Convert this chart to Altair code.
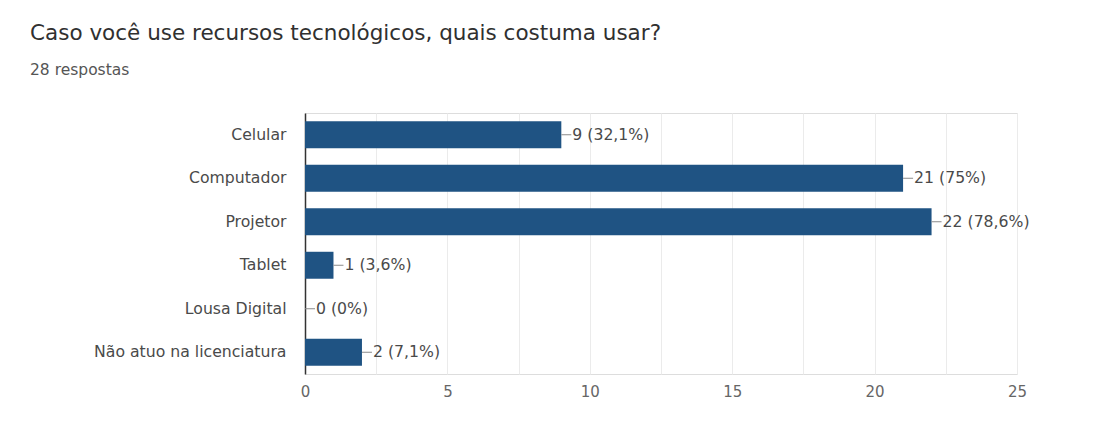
import altair as alt
import pandas as pd

categories = ["Celular", "Computador", "Projetor", "Tablet", "Lousa Digital", "Não atuo na licenciatura"]
counts = [9, 21, 22, 1, 0, 2]
labels = ["9 (32,1%)", "21 (75%)", "22 (78,6%)", "1 (3,6%)", "0 (0%)", "2 (7,1%)"]
x_ticks = [0, 2.5, 5, 7.5, 10, 12.5, 15, 17.5, 20, 22.5, 25]

df = pd.DataFrame({"cat": categories, "n": counts, "lab": labels})

FONT = "DejaVu Sans"
BAR = "#1f5383"

y_enc = alt.Y("cat:N", sort=categories,
              scale=alt.Scale(paddingInner=0.38, paddingOuter=0.19),
              axis=alt.Axis(title=None, ticks=False, labelPadding=19, labelFontSize=15.7,
                            labelColor="#4a4a4a", labelFont=FONT, domainColor="#333333",
                            domainWidth=1.5, grid=False, labelLimit=400))
x_enc = alt.X("n:Q", scale=alt.Scale(domain=[0, 25], nice=False),
              axis=alt.Axis(title=None, values=x_ticks, ticks=False, domain=False,
                            gridColor="#ebebeb", gridWidth=1, labelFontSize=15,
                            labelColor="#666666", labelFont=FONT, labelPadding=10,
                            labelFlush=False,
                            labelExpr="datum.value % 5 == 0 ? datum.label : ''"))

bars = alt.Chart(df).mark_bar(color=BAR).encode(y=y_enc, x=x_enc)
stems = alt.Chart(df).mark_rule(color="#8a8a8a", strokeWidth=1, x2Offset=10).encode(
    y=alt.Y("cat:N", sort=categories), x="n:Q", x2="n:Q")
texts = alt.Chart(df).mark_text(align="left", baseline="middle", dx=11, fontSize=15.7,
                                color="#4a4a4a", font=FONT).encode(
    y=alt.Y("cat:N", sort=categories), x="n:Q", text="lab:N")

chart = alt.layer(bars, stems, texts).properties(
    width=712, height=261,
    title=alt.TitleParams(
        text="Caso você use recursos tecnológicos, quais costuma usar?",
        subtitle="28 respostas",
        anchor="start", frame="group", dx=-275, offset=35,
        font=FONT, fontSize=21.5, fontWeight="normal", color="#303030",
        subtitleFont=FONT, subtitleFontSize=15.5, subtitleColor="#555555",
        subtitlePadding=18),
    autosize=alt.AutoSizeParams(type="none"),
    padding={"left": 297, "top": 105, "right": 77, "bottom": 52},
).configure_view(stroke=None).configure(background="white")

chart.save("out.html", embed_options={"renderer": "svg", "actions": False})
